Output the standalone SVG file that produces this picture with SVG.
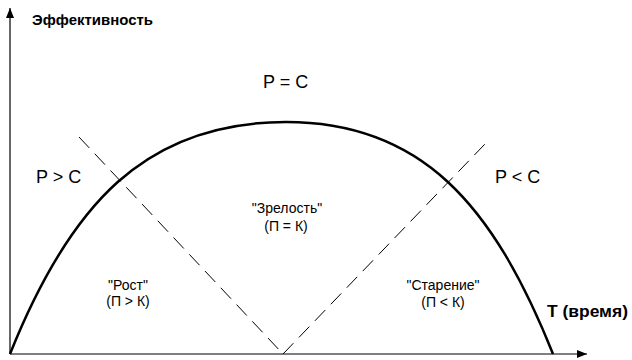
<svg xmlns="http://www.w3.org/2000/svg" width="632" height="360" viewBox="0 0 632 360">
  <style>
    text { font-family: "Liberation Sans", Arial, sans-serif; fill: #000; }
    .axis { stroke: #000; stroke-width: 1.2; fill: none; }
    .curve { stroke: #000; stroke-width: 2.5; fill: none; }
    .dash { stroke: #000; stroke-width: 1; fill: none; stroke-dasharray: 15 8; }
    .big { font-size: 18px; }
    .lbl { font-size: 14px; text-anchor: middle; }
    .bold { font-weight: bold; }
  </style>
  <defs>
    <marker id="arrow" markerUnits="userSpaceOnUse" markerWidth="11" markerHeight="9" refX="10" refY="4" orient="auto">
      <path d="M0,0 L10,4 L0,8 z" fill="#000"/>
    </marker>
  </defs>
  <rect width="632" height="360" fill="#fff"/>
  <g id="connectors">
    <line class="axis" x1="10" y1="354" x2="10" y2="8" marker-end="url(#arrow)"/>
    <line class="axis" x1="10" y1="354" x2="587" y2="354" marker-end="url(#arrow)"/>
    <path class="curve" d="M10,354 C70,204 146,122 286,122 C421,122 493,204 553,354"/>
    <line class="dash" x1="79" y1="137" x2="283" y2="354"/>
    <line class="dash" x1="283" y1="354" x2="485" y2="144"/>
  </g>
  <g id="axis-y-label">
    <text x="32" y="25" class="bold" font-size="15" textLength="121" lengthAdjust="spacingAndGlyphs">Эффективность</text>
  </g>
  <g id="axis-x-label">
    <text x="547" y="317" class="bold" font-size="17" textLength="81" lengthAdjust="spacingAndGlyphs">T (время)</text>
  </g>
  <g id="p-eq-c">
    <text x="263" y="88" class="big">P = C</text>
  </g>
  <g id="p-gt-c">
    <text x="36" y="183" class="big">P &gt; C</text>
  </g>
  <g id="p-lt-c">
    <text x="495" y="183" class="big">P &lt; C</text>
  </g>
  <g id="rost">
    <text x="128" y="290" class="lbl">"Рост"</text>
    <text x="128" y="306" class="lbl">(П &gt; К)</text>
  </g>
  <g id="zrelost">
    <text x="287" y="213" class="lbl">"Зрелость"</text>
    <text x="286" y="231" class="lbl">(П = К)</text>
  </g>
  <g id="starenie">
    <text x="443" y="290" class="lbl">"Старение"</text>
    <text x="443" y="307" class="lbl">(П &lt; К)</text>
  </g>
</svg>
